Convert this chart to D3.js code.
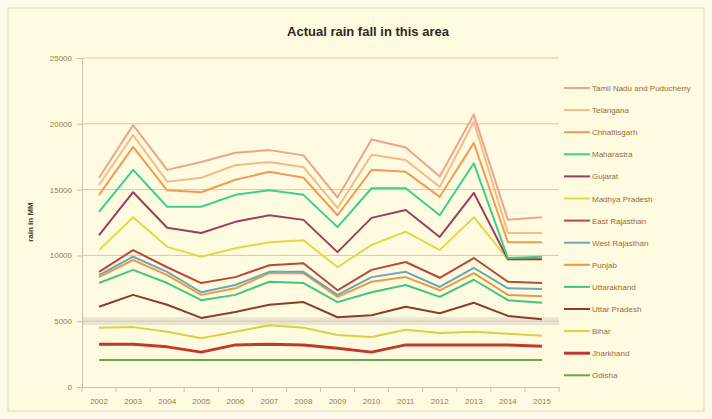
<!DOCTYPE html>
<html>
<head>
<meta charset="utf-8">
<script src="https://cdn.jsdelivr.net/npm/d3@7/dist/d3.min.js"></script>
<style>
  body { margin: 0; background: #fdfae8; }
  svg { display: block; font-family: "Liberation Sans", Arial, sans-serif; }
</style>
</head>
<body>
<svg width="712" height="419"></svg>
<script>
var years = ["2002","2003","2004","2005","2006","2007","2008","2009","2010","2011","2012","2013","2014","2015"];
var yTicks = [0, 5000, 10000, 15000, 20000, 25000];

// plotted (stacked) levels
var tamilNadu     = [15900,19900,16500,17100,17800,18000,17600,14400,18800,18200,16000,20700,12700,12900];
var telangana     = [15350,19150,15600,15900,16850,17100,16700,13600,17650,17250,15200,20150,11700,11700];
var chhattisgarh  = [14600,18250,14950,14800,15750,16350,15900,13050,16500,16350,14450,18550,11000,11000];
var maharashtra   = [13300,16500,13700,13700,14600,14950,14600,12150,15100,15100,13050,17000,9800,9900];
var gujarat       = [11550,14800,12100,11700,12550,13050,12700,10250,12850,13450,11400,14750,9700,9700];
var madhyaPradesh = [10400,12900,10650,9900,10550,11000,11150,9100,10800,11800,10400,12900,9700,9700];
var eastRajasthan = [8750,10400,9100,7900,8350,9250,9400,7350,8900,9500,8300,9800,8000,7900];
var westRajasthan = [8500,9900,8750,7200,7750,8750,8750,7000,8350,8750,7600,9050,7500,7450];
var punjab        = [8350,9650,8500,7000,7500,8650,8650,6850,8000,8350,7350,8650,7000,6900];
var uttarakhand   = [7900,8900,7900,6600,7000,8000,7900,6450,7200,7750,6850,8150,6600,6400];
var uttarPradesh  = [6100,7000,6250,5250,5700,6250,6450,5300,5450,6100,5600,6400,5400,5150];
var bihar         = [4500,4550,4200,3700,4200,4700,4500,3950,3800,4350,4100,4200,4050,3900];
var jharkhand     = [3250,3250,3050,2650,3200,3250,3200,2950,2650,3200,3200,3200,3200,3100];
var odisha        = [2050,2050,2050,2050,2050,2050,2050,2050,2050,2050,2050,2050,2050,2050];

var names = ["Tamil Nadu  and Puducherry","Telangana","Chhattisgarh","Maharastra","Gujarat",
  "Madhya Pradesh","East Rajasthan","West Rajasthan","Punjab","Uttarakhand","Uttar Pradesh",
  "Bihar","Jharkhand","Odisha"];
var colors = ["#eda48c","#f4bb86","#ef9c55","#3ccf8c","#9c3d5c","#e6d644","#b5493a",
  "#6fa5b8","#e99a45","#42c67a","#8e3b2c","#ddcf45","#c0392b","#6aa84f"];

var series = [tamilNadu, telangana, chhattisgarh, maharashtra, gujarat, madhyaPradesh,
  eastRajasthan, westRajasthan, punjab, uttarakhand, uttarPradesh, bihar, jharkhand, odisha];

var svg = d3.select("svg");

// chart area background
svg.append("rect")
  .attr("x", 8).attr("y", 8).attr("width", 696).attr("height", 403)
  .attr("fill", "#fffbe0").attr("stroke", "#ddd8c2");

var x = d3.scaleBand().domain(years).range([82, 559]);
var y = d3.scaleLinear().domain([0, 25000]).range([387, 58]);
function cx(d) { return x(d) + x.bandwidth() / 2; }

// title
svg.append("text")
  .attr("x", 368).attr("y", 36)
  .attr("text-anchor", "middle")
  .style("font-size", "13px").style("font-weight", "bold")
  .attr("fill", "#2e2a22")
  .text("Actual rain fall in this area");

// gridlines
yTicks.filter(function(t){ return t > 0; }).forEach(function(t){
  if (t == 5000) {
    svg.append("rect")
      .attr("x", 82).attr("y", y(t) - 4).attr("width", 477).attr("height", 8)
      .attr("fill", "#e9e5d2");
  }
  svg.append("line")
    .attr("x1", 82).attr("x2", 559)
    .attr("y1", y(t)).attr("y2", y(t))
    .attr("stroke", "#dcc9a6").attr("stroke-width", 1);
});

// y axis
var yAxis = svg.append("g")
  .attr("transform", "translate(82,0)")
  .call(d3.axisLeft(y).tickValues(yTicks).tickFormat(d3.format("d")).tickSize(5).tickPadding(5));
yAxis.select(".domain").attr("stroke", "#c9c2a8");
yAxis.selectAll(".tick line").attr("stroke", "#c9c2a8");
yAxis.selectAll("text").attr("fill", "#9a7a48").style("font-size", "8px");

svg.append("text")
  .attr("transform", "translate(33,222) rotate(-90)")
  .attr("text-anchor", "middle")
  .style("font-size", "8px").style("font-weight", "bold")
  .attr("fill", "#4a3d2a")
  .text("rain in MM");

// x axis
var xAxis = svg.append("g")
  .attr("transform", "translate(0,387)")
  .call(d3.axisBottom(x).tickSize(0).tickPadding(11));
xAxis.select(".domain").attr("stroke", "#c9c2a8");
xAxis.selectAll("text").attr("fill", "#9a7a48").style("font-size", "8px");
years.concat(["end"]).forEach(function(d, i){
  var px = i < years.length ? x(d) : x.range()[1];
  svg.append("line")
    .attr("x1", px).attr("x2", px).attr("y1", 387).attr("y2", 392)
    .attr("stroke", "#c9c2a8");
});

// lines, bottom series first
var line = d3.line()
  .x(function(d, i){ return cx(years[i]); })
  .y(function(d){ return y(d); });

for (var k = series.length - 1; k >= 0; k--) {
  svg.append("path")
    .datum(series[k])
    .attr("fill", "none")
    .attr("stroke", colors[k])
    .attr("stroke-width", k == 12 ? 3 : 2)
    .attr("stroke-linejoin", "round")
    .attr("d", line);
}

// legend
var legend = svg.append("g").attr("transform", "translate(564,88)");
names.forEach(function(n, i){
  var g = legend.append("g").attr("transform", "translate(0," + (i * 22.1) + ")");
  g.append("line")
    .attr("x1", 0).attr("x2", 26).attr("y1", 0).attr("y2", 0)
    .attr("stroke", colors[i]).attr("stroke-width", i == 12 ? 3 : 2);
  g.append("text")
    .attr("x", 28).attr("y", 3)
    .style("font-size", "8px")
    .attr("fill", "#9a6a38")
    .text(n);
});
</script>
</body>
</html>
